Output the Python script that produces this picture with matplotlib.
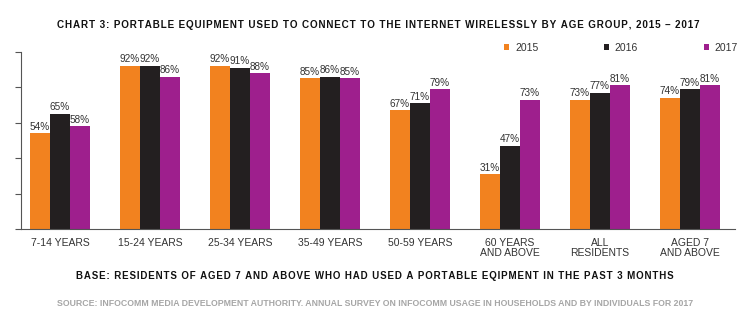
import numpy as np
import matplotlib
matplotlib.use("Agg")
from matplotlib import pyplot as plt

# chart data
groups = ["7-14 YEARS", "15-24 YEARS", "25-34 YEARS", "35-49 YEARS",
          "50-59 YEARS", "60 YEARS\nAND ABOVE", "ALL\nRESIDENTS", "AGED 7\nAND ABOVE"]
years = ["2015", "2016", "2017"]
v2015 = [54, 92, 92, 85, 67, 31, 73, 74]
v2016 = [65, 92, 91, 86, 71, 47, 77, 79]
v2017 = [58, 86, 88, 85, 79, 73, 81, 81]
yticks = [0, 20, 40, 60, 80, 100]

title = "CHART 3: PORTABLE EQUIPMENT USED TO CONNECT TO THE INTERNET WIRELESSLY BY AGE GROUP, 2015 \u2013 2017"
base = "BASE: RESIDENTS OF AGED 7 AND ABOVE WHO HAD USED A PORTABLE EQIPMENT IN THE PAST 3 MONTHS"
source = "SOURCE: INFOCOMM MEDIA DEVELOPMENT AUTHORITY. ANNUAL SURVEY ON INFOCOMM USAGE IN HOUSEHOLDS AND BY INDIVIDUALS FOR 2017"

colors = ["#f2821f", "#231f20", "#9e1f8d"]
fam = ["Liberation Sans", "DejaVu Sans"]


def spaced(s):
    # wide tracking like the original heading
    return "\u200a".join(s)


fig = plt.figure(figsize=(7.5, 3.26), dpi=100)
ax = fig.add_axes([21 / 750, 1 - 229.3 / 326, 714 / 750, 177.6 / 326])

x = np.arange(len(groups))
w = 0.222
for i, (vals, c, yr) in enumerate(zip([v2015, v2016, v2017], colors, years)):
    bars = ax.bar(x + (i - 1) * w, vals, width=w, color=c, label=yr, zorder=2)
    for b, v in zip(bars, vals):
        ax.text(b.get_x() + b.get_width() / 2, v + 0.8, f"{v}%", ha="center", va="bottom",
                fontsize=7.2, color="#333333", family=fam)

ax.set_xlim(-0.433, 7.5)
ax.set_ylim(0, 100)
ax.set_yticks(yticks)
ax.set_yticklabels([])
ax.tick_params(axis="y", length=4.3, width=0.8, color="#555555", direction="out")
ax.set_xticks(x)
ax.set_xticklabels(groups, family=fam, fontsize=7.5, color="#333333", linespacing=1.05)
ax.tick_params(axis="x", length=0, pad=6)
for s in ["top", "right"]:
    ax.spines[s].set_visible(False)
for s in ["left", "bottom"]:
    ax.spines[s].set_color("#555555")
    ax.spines[s].set_linewidth(0.8)

handles, labels = ax.get_legend_handles_labels()
leg = fig.legend(handles, labels, ncol=3, loc="center left", bbox_to_anchor=(504 / 750, 1 - 48 / 326),
                 frameon=False, borderpad=0, borderaxespad=0,
                 handlelength=0.5, handleheight=0.5, handletextpad=0.55, columnspacing=6.3,
                 prop={"family": fam, "size": 7.5})
for t in leg.get_texts():
    t.set_color("#333333")

fig.text(378 / 750, 1 - 25 / 326, spaced(title), ha="center", va="center",
         fontsize=7.15, fontweight="bold", color="#111111", family=fam)
fig.text(375 / 750, 1 - 276 / 326, spaced(base), ha="center", va="center",
         fontsize=7.0, fontweight="bold", color="#111111", family=fam)
fig.text(375 / 750, 1 - 303 / 326, source, ha="center", va="center",
         fontsize=6.3, fontweight="bold", color="#a6a6a6", family=fam)

fig.savefig("out.png", dpi=100)
